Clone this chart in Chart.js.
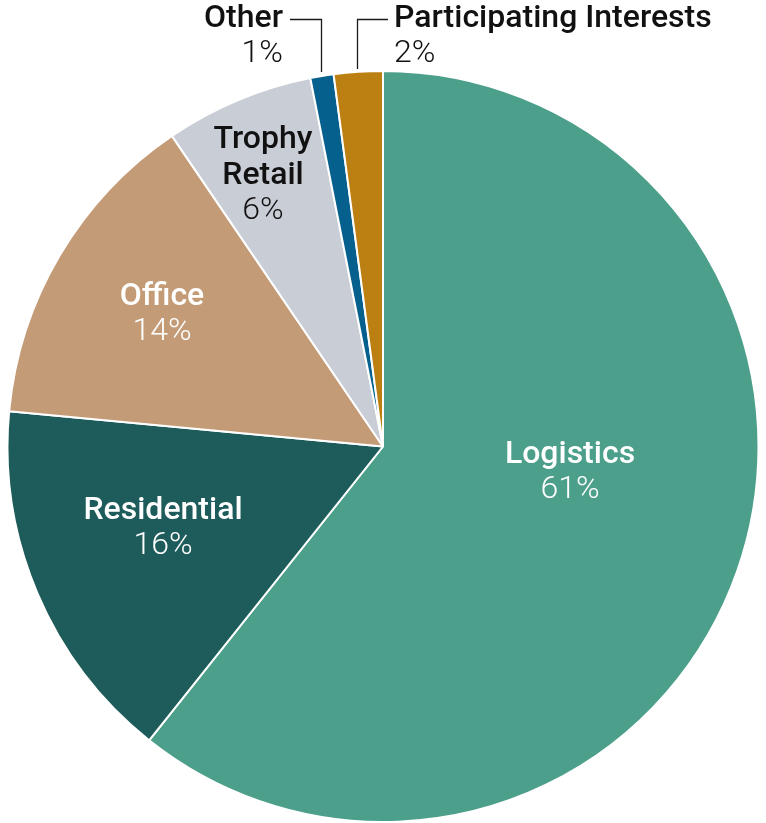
<!DOCTYPE html>
<html>
<head>
<meta charset="utf-8">
<script src="https://cdn.jsdelivr.net/npm/chart.js@4"></script>
<style>
  html, body { margin: 0; padding: 0; background: #fff; }
  #wrap { width: 766px; height: 823px; }
</style>
</head>
<body>
<div id="wrap"><canvas id="pieChart"></canvas></div>
<script>
// data (clockwise from 12 o'clock)
const segments = ['Logistics', 'Residential', 'Office', 'Trophy Retail', 'Other', 'Participating Interests'];
const shares = [60.7, 15.8, 14.0, 6.4, 1.0, 2.1];
const colors = [
  'rgb(76, 159, 138)',   // logistics
  'rgb(29, 92, 90)',     // residential
  'rgb(196, 155, 119)',  // office
  'rgb(201, 205, 214)',  // trophy retail
  'rgb(5, 96, 142)',     // other
  'rgb(188, 128, 18)'    // participating interests
];

// where each label sits (name lines, then the percent)
const labelSpots = [
  { lines: ['Logistics'], x: 570, y: 463, align: 'center', color: '#fff' },
  { lines: ['Residential'], x: 163, y: 519, align: 'center', color: '#fff' },
  { lines: ['Office'], x: 162, y: 305, align: 'center', color: '#fff' },
  { lines: ['Trophy', 'Retail'], x: 263, y: 148, align: 'center', color: '#111' },
  { lines: ['Other'], x: 283, y: 27, align: 'right', color: '#111', leader: [[290, 19.5], [321.5, 19.5], [321.5, 72]] },
  { lines: ['Participating Interests'], x: 394, y: 27, align: 'left', color: '#111', leader: [[388, 19.5], [357.5, 19.5], [357.5, 69]] }
];

const sliceLabels = {
  id: 'sliceLabels',
  afterDatasetsDraw(chart) {
    const ctx = chart.ctx;
    ctx.save();
    labelSpots.forEach((s, i) => {
      if (s.leader) {
        ctx.strokeStyle = '#1a1a1a';
        ctx.lineWidth = 1.3;
        ctx.beginPath();
        s.leader.forEach((p, k) => k ? ctx.lineTo(p[0], p[1]) : ctx.moveTo(p[0], p[1]));
        ctx.stroke();
      }
      ctx.fillStyle = s.color;
      ctx.textAlign = s.align;
      ctx.textBaseline = 'alphabetic';
      let y = s.y;
      ctx.font = '500 32px Roboto';
      s.lines.forEach((t, k) => {
        if (k) y += 36;
        ctx.fillText(t, s.x, y);
      });
      ctx.font = '300 32px Roboto';
      ctx.fillText(Math.round(shares[i]) + '%', s.x, y + 35);
    });
    ctx.restore();
  }
};

const config = {
  type: 'pie',
  data: {
    labels: segments,
    datasets: [{
      data: shares,
      backgroundColor: colors,
      borderColor: '#fff',
      borderWidth: 2,
      hoverOffset: 0
    }]
  },
  options: {
    responsive: true,
    maintainAspectRatio: false,
    animation: false,
    layout: { padding: { top: 70, bottom: 0, left: 6, right: 6 } },
    plugins: {
      legend: { display: false },
      tooltip: { enabled: false }
    }
  },
  plugins: [sliceLabels]
};

const pieChart = new Chart(document.getElementById('pieChart'), config);
</script>
</body>
</html>
